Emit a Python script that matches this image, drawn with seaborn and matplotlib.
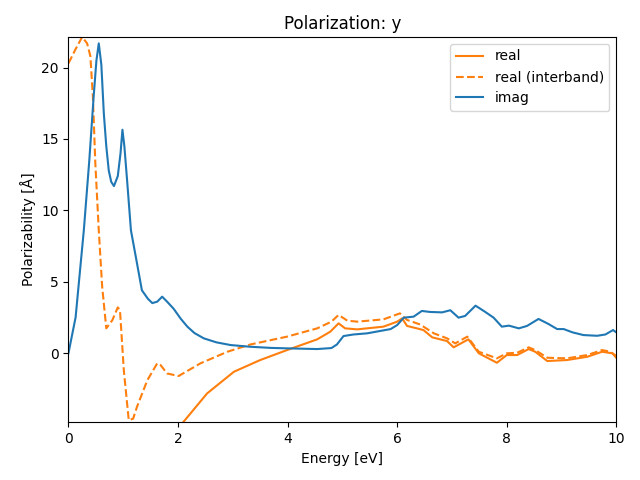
import matplotlib
matplotlib.use("Agg")
import matplotlib.pyplot as plt
import seaborn as sns

# imaginary part
imag_x = [0.0, 0.13, 0.28, 0.38, 0.46, 0.51, 0.553, 0.6, 0.645, 0.69, 0.735, 0.78, 0.83, 0.9, 0.95, 0.985,
          1.02, 1.07, 1.14, 1.25, 1.34, 1.45, 1.53, 1.62, 1.71, 1.8, 1.92, 2.05, 2.17, 2.3, 2.47,
          2.7, 2.96, 3.32, 3.7, 3.99, 4.54, 4.8, 4.9, 5.02, 5.2, 5.45, 5.88, 6.0, 6.12, 6.3,
          6.45, 6.6, 6.82, 6.97, 7.12, 7.24, 7.43, 7.6, 7.76, 7.91, 8.04, 8.22, 8.37, 8.58,
          8.76, 8.92, 9.04, 9.2, 9.4, 9.65, 9.8, 9.94, 10.0]
imag_y = [0.0, 2.5, 8.6, 13.5, 18.0, 20.5, 21.7, 20.2, 16.8, 14.5, 12.8, 12.0, 11.7, 12.4, 14.0, 15.65,
          14.5, 12.1, 8.6, 6.3, 4.4, 3.8, 3.5, 3.6, 3.95, 3.6, 3.1, 2.4, 1.85, 1.4, 1.03,
          0.75, 0.56, 0.44, 0.36, 0.33, 0.28, 0.35, 0.6, 1.19, 1.3, 1.38, 1.68, 1.96, 2.48, 2.55,
          2.95, 2.88, 2.85, 3.0, 2.48, 2.6, 3.32, 2.9, 2.48, 1.85, 1.92, 1.73, 1.9, 2.39,
          2.04, 1.68, 1.68, 1.45, 1.26, 1.21, 1.3, 1.61, 1.45]

# real part (interband)
inter_x = [0.0, 0.13, 0.25, 0.34, 0.4, 0.445, 0.49, 0.553, 0.615, 0.69, 0.8, 0.9, 0.94, 1.01,
           1.1, 1.18, 1.25, 1.44, 1.62, 1.68, 1.8, 2.01, 2.41, 2.9, 3.32, 3.99, 4.54, 4.8,
           4.93, 5.09, 5.27, 5.75, 6.05, 6.18, 6.42, 6.67, 6.91, 7.06, 7.28, 7.49, 7.82, 8.0,
           8.19, 8.4, 8.52, 8.74, 9.1, 9.47, 9.74, 9.89, 10.0]
inter_y = [20.3, 21.3, 22.15, 21.7, 20.8, 18.0, 13.3, 8.6, 4.65, 1.73, 2.3, 3.2, 3.0, -1.2,
           -4.7, -4.6, -3.77, -1.9, -0.72, -0.84, -1.43, -1.61, -0.72, 0.09, 0.6, 1.15, 1.73, 2.2,
           2.67, 2.27, 2.2, 2.36, 2.78, 2.32, 2.0, 1.38, 1.03, 0.68, 1.15, 0.09, -0.37, -0.02,
           0.02, 0.4, 0.21, -0.33, -0.37, -0.14, 0.21, 0.09, -0.21]

# real part (total)
real_x = [1.8, 2.1, 2.53, 3.02, 3.5, 3.99, 4.54, 4.78, 4.93, 5.05, 5.27, 5.75, 6.0, 6.09,
          6.18, 6.36, 6.48, 6.64, 6.91, 7.03, 7.3, 7.49, 7.82, 8.0, 8.19, 8.4, 8.52, 8.74,
          9.1, 9.47, 9.74, 9.93, 10.0]
real_y = [-6.2, -4.82, -2.83, -1.31, -0.49, 0.21, 0.96, 1.5, 2.08, 1.73, 1.66, 1.85, 2.2, 2.43,
          1.9, 1.73, 1.61, 1.1, 0.84, 0.4, 0.96, -0.02, -0.68, -0.14, -0.14, 0.28, 0.09, -0.56,
          -0.49, -0.26, 0.09, -0.02, -0.33]

fig, ax = plt.subplots(figsize=(6.4, 4.8), dpi=100)
fig.subplots_adjust(left=0.107, right=0.963, top=0.923, bottom=0.120)

sns.lineplot(x=real_x, y=real_y, ax=ax, color="C1", label="real", estimator=None)
sns.lineplot(x=inter_x, y=inter_y, ax=ax, color="C1", linestyle="--",
             label="real (interband)", estimator=None)
sns.lineplot(x=imag_x, y=imag_y, ax=ax, color="C0", label="imag", estimator=None)

ax.set_xlim(0, 10)
ax.set_ylim(-4.86, 22.15)
ax.set_title("Polarization: y")
ax.set_xlabel("Energy [eV]")
ax.set_ylabel("Polarizability [Å]")
ax.legend(loc="upper right")
fig.savefig("out.png", dpi=100)
